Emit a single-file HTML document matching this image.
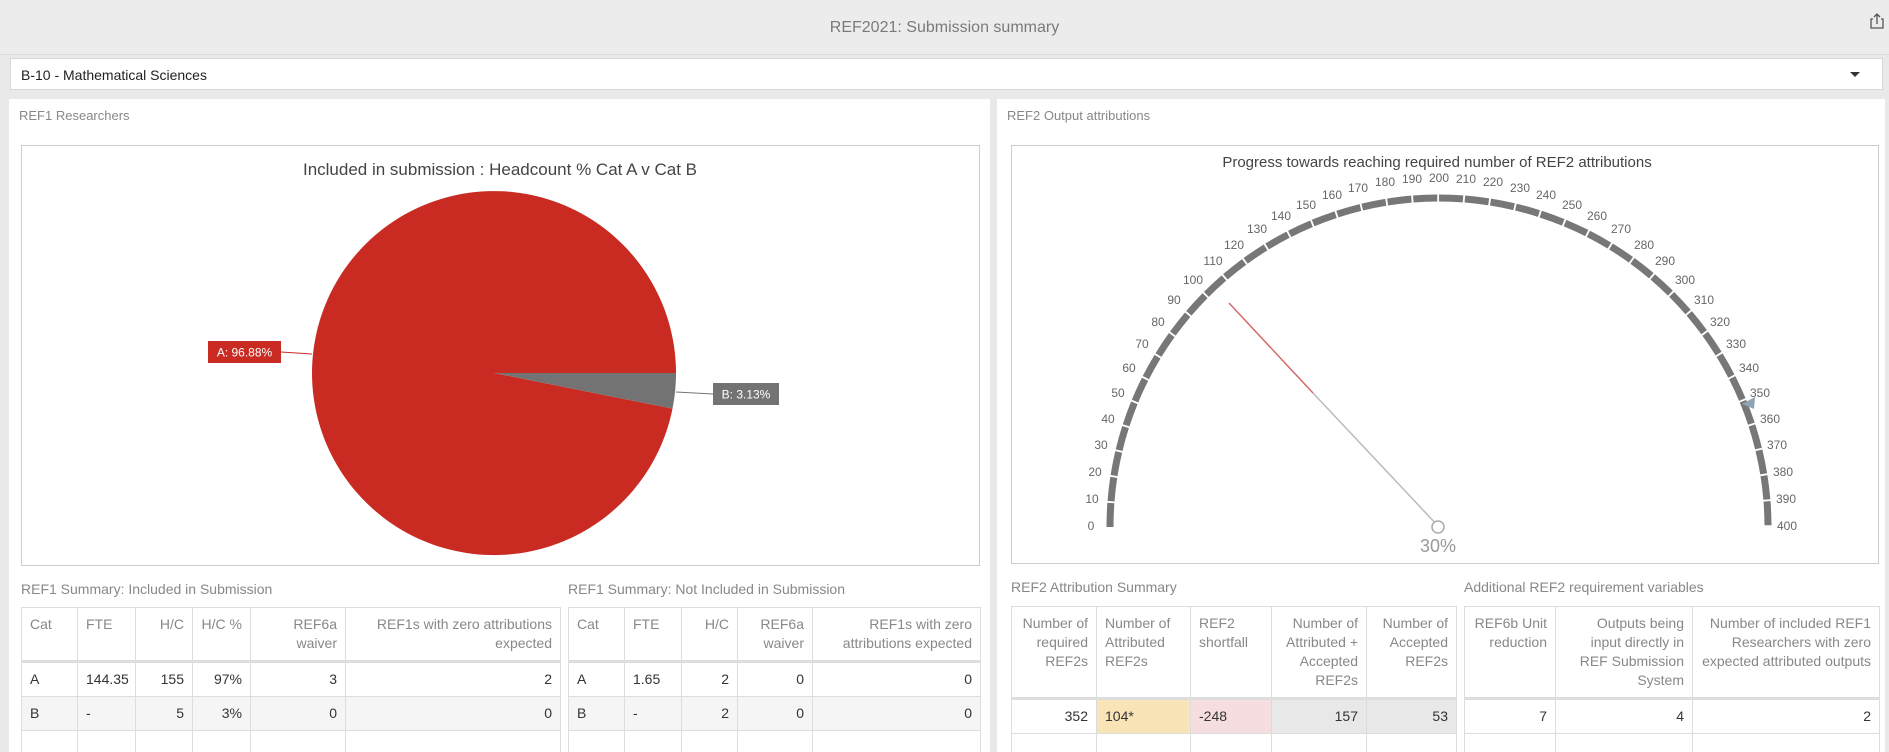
<!DOCTYPE html>
<html style="overflow:hidden"><head><meta charset="utf-8">
<style>
*{box-sizing:border-box;margin:0;padding:0}
html,body{width:1889px;height:752px;overflow:hidden}
body{background:#e9e9e9;font-family:"Liberation Sans",sans-serif;position:relative}
.abs{position:absolute}
.hdr{left:0;top:0;width:1889px;height:55px;background:#ececec;border-bottom:1px solid #ddd}
.ttl{width:1889px;text-align:center;top:19px;font-size:16px;color:#7a7a7a}
.sel{left:10px;top:58px;width:1873px;height:32px;background:#fff;border:1px solid #d8d8d8;font-size:14px;color:#222;padding:8px 0 0 10px}
.panel{background:#fff;top:99px;height:653px}
.ptitle{font-size:13px;color:#888}
table{border-collapse:collapse;table-layout:fixed;font-size:14px;position:absolute}
td,th{border:1px solid #ddd;padding:7px 8px;vertical-align:top;line-height:19px;font-weight:normal}
th{color:#888;height:54px;border-bottom:3px solid #ddd}
td{color:#333;height:34px}
.r{text-align:right}.l{text-align:left}
tr.g td{background:#f5f5f5}
.wrap{position:absolute;left:0;top:0;width:1889px;height:752px;overflow:hidden}
</style></head><body><div class="wrap">
<div class="abs hdr"></div>
<div class="abs ttl">REF2021: Submission summary</div>
<svg class="abs" style="left:1868px;top:12px" width="18" height="18" viewBox="0 0 18 18"><path d="M5 7H3v9h12V7h-2" fill="none" stroke="#555" stroke-width="1.3"/><path d="M9 12V2M6 5l3-3 3 3" fill="none" stroke="#555" stroke-width="1.3"/></svg>
<div class="abs sel">B-10 - Mathematical Sciences</div>
<div class="abs" style="left:1850px;top:72px;width:0;height:0;border-left:5px solid transparent;border-right:5px solid transparent;border-top:5px solid #333"></div>

<div class="abs panel" style="left:9px;width:981px"></div>
<div class="abs panel" style="left:997px;width:888px"></div>
<div class="abs ptitle" style="left:19px;top:108px">REF1 Researchers</div>
<div class="abs ptitle" style="left:1007px;top:108px">REF2 Output attributions</div>

<div class="abs" style="left:21px;top:145px;width:959px;height:421px;border:1px solid #ccc"></div>
<div class="abs" style="left:1011px;top:145px;width:868px;height:419px;border:1px solid #ccc"></div>

<svg class="abs" style="left:0;top:0" width="1889" height="752">
<text x="500" y="175" text-anchor="middle" font-size="17" fill="#444" font-family="Liberation Sans">Included in submission : Headcount % Cat A v Cat B</text>
<path d="M494 373 L672.5 408.6 A182 182 0 1 1 676 373 Z" fill="#c92b22"/>
<path d="M494 373 L676 373 A182 182 0 0 1 672.5 408.6 Z" fill="#737373"/>
<path d="M281 352 L312 354" stroke="#c92b22" stroke-width="1" fill="none"/>
<path d="M676 392 L713 394" stroke="#737373" stroke-width="1" fill="none"/>
<rect x="208" y="341" width="73" height="22" fill="#c92b22"/>
<text x="244.5" y="356.5" text-anchor="middle" font-size="12" fill="#fff" font-family="Liberation Sans">A: 96.88%</text>
<rect x="713" y="383" width="66" height="22" fill="#737373"/>
<text x="746" y="398.5" text-anchor="middle" font-size="12" fill="#fff" font-family="Liberation Sans">B: 3.13%</text>

<text x="1437" y="167" text-anchor="middle" font-size="15" fill="#444" font-family="Liberation Sans">Progress towards reaching required number of REF2 attributions</text>
<path d="M1110 527 A329 329 0 0 1 1768 527" fill="none" stroke="#777" stroke-width="7" stroke-dasharray="24 1.84"/>
<g font-size="12" fill="#666" font-family="Liberation Sans" text-anchor="middle" dominant-baseline="middle">
<text x="1091" y="527">0</text><text x="1092" y="500">10</text><text x="1095" y="473">20</text><text x="1101" y="446">30</text><text x="1108" y="420">40</text><text x="1118" y="394">50</text><text x="1129" y="369">60</text><text x="1142" y="345">70</text><text x="1158" y="323">80</text><text x="1174" y="301">90</text><text x="1193" y="281">100</text><text x="1213" y="262">110</text><text x="1234" y="246">120</text><text x="1257" y="230">130</text><text x="1281" y="217">140</text><text x="1306" y="206">150</text><text x="1332" y="196">160</text><text x="1358" y="189">170</text><text x="1385" y="183">180</text><text x="1412" y="180">190</text><text x="1439" y="179">200</text><text x="1466" y="180">210</text><text x="1493" y="183">220</text><text x="1520" y="189">230</text><text x="1546" y="196">240</text><text x="1572" y="206">250</text><text x="1597" y="217">260</text><text x="1621" y="230">270</text><text x="1644" y="246">280</text><text x="1665" y="262">290</text><text x="1685" y="281">300</text><text x="1704" y="301">310</text><text x="1720" y="323">320</text><text x="1736" y="345">330</text><text x="1749" y="369">340</text><text x="1760" y="394">350</text><text x="1770" y="420">360</text><text x="1777" y="446">370</text><text x="1783" y="473">380</text><text x="1786" y="500">390</text><text x="1787" y="527">400</text>
</g>
<path d="M1742 404 L1755 397 L1754 409 Z" fill="#8fa3b5"/>
<line x1="1439" y1="527" x2="1313" y2="393" stroke="#bbb" stroke-width="1.5"/>
<line x1="1313" y1="393" x2="1229" y2="303" stroke="#d46a6a" stroke-width="1.5"/>
<circle cx="1438" cy="527" r="6" fill="#fff" stroke="#aaa" stroke-width="1.5"/>
<text x="1438" y="552" text-anchor="middle" font-size="18" fill="#999" font-family="Liberation Sans">30%</text>
</svg>

<div class="abs ptitle" style="left:21px;top:581px;font-size:14px">REF1 Summary: Included in Submission</div>
<div class="abs ptitle" style="left:568px;top:581px;font-size:14px">REF1 Summary: Not Included in Submission</div>
<div class="abs ptitle" style="left:1011px;top:579px;font-size:14px">REF2 Attribution Summary</div>
<div class="abs ptitle" style="left:1464px;top:579px;font-size:14px">Additional REF2 requirement variables</div>

<table style="left:21px;top:607px;width:539px">
<colgroup><col style="width:56px"><col style="width:58px"><col style="width:57px"><col style="width:58px"><col style="width:95px"><col style="width:215px"></colgroup>
<tr><th class="l">Cat</th><th class="l">FTE</th><th class="r">H/C</th><th class="r">H/C %</th><th class="r">REF6a waiver</th><th class="r">REF1s with zero attributions expected</th></tr>
<tr><td>A</td><td>144.35</td><td class="r">155</td><td class="r">97%</td><td class="r">3</td><td class="r">2</td></tr>
<tr class="g"><td>B</td><td>-</td><td class="r">5</td><td class="r">3%</td><td class="r">0</td><td class="r">0</td></tr>
<tr><td style="height:30px"></td><td></td><td></td><td></td><td></td><td></td></tr>
</table>

<table style="left:568px;top:607px;width:412px">
<colgroup><col style="width:56px"><col style="width:57px"><col style="width:56px"><col style="width:75px"><col style="width:168px"></colgroup>
<tr><th class="l">Cat</th><th class="l">FTE</th><th class="r">H/C</th><th class="r">REF6a waiver</th><th class="r">REF1s with zero attributions expected</th></tr>
<tr><td>A</td><td>1.65</td><td class="r">2</td><td class="r">0</td><td class="r">0</td></tr>
<tr class="g"><td>B</td><td>-</td><td class="r">2</td><td class="r">0</td><td class="r">0</td></tr>
<tr><td style="height:30px"></td><td></td><td></td><td></td><td></td></tr>
</table>

<table style="left:1011px;top:606px;width:445px">
<colgroup><col style="width:85px"><col style="width:94px"><col style="width:81px"><col style="width:95px"><col style="width:90px"></colgroup>
<tr><th class="r" style="height:91px">Number of required REF2s</th><th class="l">Number of Attributed REF2s</th><th class="l">REF2 shortfall</th><th class="r">Number of Attributed + Accepted REF2s</th><th class="r">Number of Accepted REF2s</th></tr>
<tr><td class="r">352</td><td style="background:#f9e4b7">104*</td><td style="background:#f6dde0">-248</td><td class="r" style="background:#e8e8e8">157</td><td class="r" style="background:#e8e8e8">53</td></tr>
<tr><td style="height:30px"></td><td></td><td></td><td></td><td></td></tr>
</table>

<table style="left:1464px;top:606px;width:415px">
<colgroup><col style="width:91px"><col style="width:137px"><col style="width:187px"></colgroup>
<tr><th class="r" style="height:91px">REF6b Unit reduction</th><th class="r">Outputs being input directly in REF Submission System</th><th class="r">Number of included REF1 Researchers with zero expected attributed outputs</th></tr>
<tr><td class="r">7</td><td class="r">4</td><td class="r">2</td></tr>
<tr><td style="height:30px"></td><td></td><td></td></tr>
</table>
</div></body></html>
